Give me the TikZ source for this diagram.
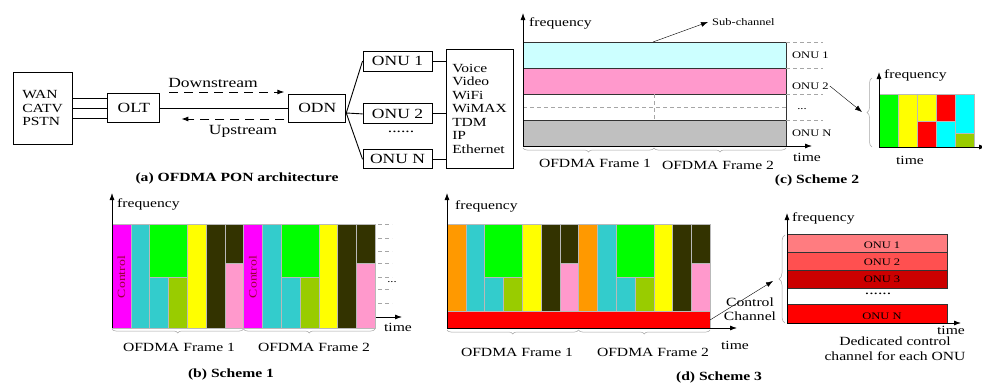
\documentclass[tikz,border=0pt]{standalone}
\usepackage{fontspec}
\setmainfont[FakeStretch=1.25]{Liberation Serif}
\usetikzlibrary{positioning}
\usetikzlibrary{graphs}
\usetikzlibrary{arrows.meta}
\usetikzlibrary{decorations.pathreplacing}
\definecolor{cmagenta}{HTML}{FF00FF}
\definecolor{cteal}{HTML}{33CCCC}
\definecolor{cgreen}{HTML}{00FF00}
\definecolor{colive}{HTML}{99CC00}
\definecolor{cyellow}{HTML}{FFFF00}
\definecolor{cdark}{HTML}{333300}
\definecolor{cpink}{HTML}{FF99CC}
\definecolor{corange}{HTML}{FF9900}
\definecolor{cred}{HTML}{FF0000}
\definecolor{ccyan}{HTML}{00FFFF}
\definecolor{clightcyan}{HTML}{CCFFFF}
\definecolor{cgray}{HTML}{C0C0C0}
\definecolor{cctrl}{HTML}{990033}
\definecolor{conua}{HTML}{FF7C80}
\definecolor{conub}{HTML}{FF5050}
\definecolor{conuc}{HTML}{CC0000}
\tikzset{axtip/.tip={Latex[length=7pt,width=5pt]}}
\newcommand{\ofdmaframe}[3]{% #1 left x, #2 bottom y, #3 first slot
  \filldraw[cell, fill=#3]      (#1,224)         rectangle ({#1+18.8},#2);
  \filldraw[cell, fill=cteal]   ({#1+18.8},224)  rectangle ({#1+37.6},#2);
  \filldraw[cell, fill=cgreen]  ({#1+37.6},224)  rectangle ({#1+75.2},277);
  \filldraw[cell, fill=cteal]   ({#1+37.6},277)  rectangle ({#1+56.4},#2);
  \filldraw[cell, fill=colive]  ({#1+56.4},277)  rectangle ({#1+75.2},#2);
  \filldraw[cell, fill=cyellow] ({#1+75.2},224)  rectangle ({#1+94},#2);
  \filldraw[cell, fill=cdark]   ({#1+94},224)    rectangle ({#1+112.8},#2);
  \filldraw[cell, fill=cdark]   ({#1+112.8},224) rectangle ({#1+131.5},263);
  \filldraw[cell, fill=cpink]   ({#1+112.8},263) rectangle ({#1+131.5},#2);
}

\begin{document}
\begin{tikzpicture}[x=1pt,y=-1pt,
    box/.style={draw, line width=0.9pt, inner sep=0pt, font=\fontsize{14}{16}\selectfont},
    list/.style={font=\fontsize{12.4}{13.5}\selectfont},
    big/.style={font=\fontsize{14}{16}\selectfont},
    lab/.style={font=\fontsize{12.5}{15}\selectfont, inner sep=1pt},
    smalltxt/.style={font=\fontsize{10}{12}\selectfont, inner sep=1pt},
    subcap/.style={font=\bfseries\fontsize{12.5}{14}\selectfont},
    wire/.style={line width=0.9pt},
    flow/.style={line width=0.9pt, dash pattern=on 9pt off 6pt, -axtip},
    faxis/.style={line width=0.8pt, -axtip},
    pointer/.style={line width=0.4pt, -axtip},
    cell/.style={draw=gray!55, line width=0.3pt},
    band/.style={draw=black!80, line width=0.8pt},
    guide/.style={draw=gray!70, line width=0.5pt, dash pattern=on 4pt off 3pt},
    fbrace/.style={decorate, decoration={brace, amplitude=4pt}, draw=gray!70, line width=0.5pt},
    ctrl/.style={rotate=90, text=cctrl, font=\fontsize{11}{12}\selectfont}]
    \path[use as bounding box, fill=white] (0,0) rectangle (982,388);

    % (a) architecture
    \node[box, list, minimum width=59pt, minimum height=72pt, align=left] (wan) at (42.5,108) {WAN\\CATV\\PSTN};
    \node[box, minimum width=52pt, minimum height=29pt] (olt) [right=35pt of wan] {OLT};
    \node[box, minimum width=57pt, minimum height=28pt] (odn) [right=128pt of olt] {ODN};
    \node[box, minimum width=69pt, minimum height=20pt] (onu1) at (397.5,61) {ONU 1};
    \node[box, minimum width=69pt, minimum height=20pt] (onu2) [below=32pt of onu1] {ONU 2};
    \node[big] (onudots) at (401,132) {......};
    \node[box, minimum width=69pt, minimum height=19pt] (onun) [below=25pt of onu2] {ONU N};
    \node[box, list, minimum width=67pt, minimum height=119pt, align=left] (svc) at (479.5,108.5)
        {Voice\\Video\\WiFi\\WiMAX\\TDM\\IP\\Ethernet};
    \node[big] (down) at (213,83) {Downstream};
    \node[big] (up) at (243,131) {Upstream};

    \draw[wire] ([yshift=10pt]wan.east) -- ([yshift=10pt]olt.west);
    \draw[wire] (wan.east) -- (olt.west);
    \draw[wire] ([yshift=-10pt]wan.east) -- ([yshift=-10pt]olt.west);
    \graph[edges={wire}]{ (olt) -- (odn); };
    \draw[flow] ([xshift=9pt,yshift=16pt]olt.east) -- ([xshift=-4pt,yshift=16pt]odn.west);
    \draw[flow] ([xshift=-4pt,yshift=-11pt]odn.west) -- ([xshift=21pt,yshift=-11pt]olt.east);
    \coordinate (split) at ([yshift=-5pt]odn.east);
    \draw[wire] (split) -- (onu1.west);
    \draw[wire] (split) -- (onu2.west);
    \draw[wire] (split) -- (onun.west);
    \draw[wire] (onu1.east) -- (onu1.east -| svc.west);
    \draw[wire] (onu2.east) -- (onu2.east -| svc.west);
    \draw[wire] (onun.east) -- (onun.east -| svc.west);
    \node[subcap] (capa) at (237,178) {(a) OFDMA PON architecture};

    % (c) scheme 2
    \filldraw[band, fill=clightcyan] (523,42) rectangle (786,68);
    \filldraw[band, fill=cpink] (523,68) rectangle (786,94);
    \filldraw[band, fill=white] (523,94) rectangle (786,120);
    \filldraw[band, fill=cgray] (523,120) rectangle (786,146);
    \draw[guide] (523,107) -- (786,107);
    \draw[guide] (654,94) -- (654,120);
    \foreach \y in {42,68,94,120}
        \draw[guide] (786,\y) -- (823,\y);
    \coordinate (oc) at (523,146);
    \draw[faxis] (oc) -- (523,13);
    \draw[faxis] (oc) -- (812,146);
    \node[lab, anchor=west] (freqc) at (528,23) {frequency};
    \node[lab] (timec) at (807,157) {time};
    \node[smalltxt, anchor=west] (subch) at (711,22) {Sub-channel};
    \coordinate (subtop) at (653,42);
    \draw[pointer] (subtop) -- ([xshift=-3pt]subch.west);
    \node[smalltxt, anchor=west] (labc1) at (791,55) {ONU 1};
    \node[smalltxt, anchor=west] (labc2) at (791,86) {ONU 2};
    \node[smalltxt] (labcd) at (802,109) {...};
    \node[smalltxt, anchor=west] (labcn) at (791,133) {ONU N};
    \draw[fbrace] (654,148) -- (523,148);
    \draw[fbrace] (786,148) -- (654,148);
    \node[lab] (framec1) at (595,163) {OFDMA Frame 1};
    \node[lab] (framec2) at (718,165) {OFDMA Frame 2};
    \node[subcap] (capc) at (817,180) {(c) Scheme 2};

    % (c) slot inset
    \filldraw[cell, fill=cgreen] (879,94) rectangle (898,147);
    \filldraw[cell, fill=cyellow] (898,94) rectangle (917,147);
    \filldraw[cell, fill=cyellow] (917,94) rectangle (936,121);
    \filldraw[cell, fill=cred] (917,121) rectangle (936,147);
    \filldraw[cell, fill=cred] (936,94) rectangle (955,121);
    \filldraw[cell, fill=ccyan] (936,121) rectangle (955,147);
    \filldraw[cell, fill=ccyan] (955,94) rectangle (974,133);
    \filldraw[cell, fill=colive] (955,133) rectangle (974,147);
    \coordinate (oi) at (879,147);
    \draw[faxis] (oi) -- (879,72);
    \draw[faxis] (oi) -- (986,147);
    \node[lab, anchor=west] (freqi) at (883,75) {frequency};
    \node[lab] (timei) at (910,160) {time};
    \draw[fbrace, decoration={amplitude=5pt}] (872,147) -- (872,78);
    \coordinate (tipc) at (862,112);
    \draw[pointer] (labc2.east) -- (tipc);

    % (b) scheme 1
    \ofdmaframe{112}{328}{cmagenta}
    \ofdmaframe{243.5}{328}{cmagenta}
    \node[ctrl] (ctl1) at (121.4,277) {Control};
    \node[ctrl] (ctl2) at (252.9,277) {Control};
    \coordinate (ob) at (112,328);
    \draw[faxis] (ob) -- (112,193);
    \draw[faxis] (376,317) -- (402,317);
    \foreach \y in {224,238,251,263,277,289,303}
        \draw[guide] (378,\y) -- (392,\y);
    \node[smalltxt] (dotsb) at (392,282) {...};
    \node[lab, anchor=west] (freqb) at (116,204) {frequency};
    \node[lab] (timeb) at (398,327) {time};
    \draw[fbrace] (243.5,329) -- (112,329);
    \draw[fbrace] (375,329) -- (243.5,329);
    \node[lab] (frameb1) at (179,347) {OFDMA Frame 1};
    \node[lab] (frameb2) at (314,347) {OFDMA Frame 2};
    \node[subcap] (capb) at (231,374) {(b) Scheme 1};

    % (d) scheme 3
    \ofdmaframe{447}{311}{corange}
    \ofdmaframe{578.5}{311}{corange}
    \filldraw[cell, fill=cred] (447,311) rectangle (710,328);
    \coordinate (od) at (447,328);
    \draw[faxis] (od) -- (447,193);
    \draw[faxis] (od) -- (737,328);
    \node[lab, anchor=west] (freqd) at (454,206) {frequency};
    \node[lab] (timed) at (735,345) {time};
    \draw[fbrace] (578.5,330) -- (447,330);
    \draw[fbrace] (710,330) -- (578.5,330);
    \node[lab] (framed1) at (517,352) {OFDMA Frame 1};
    \node[lab] (framed2) at (653,352) {OFDMA Frame 2};
    \node[subcap] (capd) at (719,377) {(d) Scheme 3};
    \node[lab, align=center, font=\fontsize{12.5}{13.5}\selectfont] (ctlch) at (750,309) {Control\\Channel};
    \coordinate (redend) at (710,320);
    \coordinate (tipd) at (773,281);
    \draw[pointer] (redend) -- (tipd);
    \draw[fbrace, decoration={amplitude=6pt}] (785,323) -- (785,235);

    % (d) control channel inset
    \filldraw[band, fill=conua] (787,234) rectangle (947,252);
    \filldraw[band, fill=conub] (787,252) rectangle (947,270);
    \filldraw[band, fill=conuc] (787,270) rectangle (947,288);
    \filldraw[band, fill=cred] (787,304) rectangle (947,323);
    \node[smalltxt] (labd1) at (882,245) {ONU 1};
    \node[smalltxt] (labd2) at (882,262) {ONU 2};
    \node[smalltxt] (labd3) at (882,279) {ONU 3};
    \node[big] (labdd) at (878,294) {......};
    \node[smalltxt] (labdn) at (882,316) {ONU N};
    \coordinate (oe) at (787,323);
    \draw[faxis] (oe) -- (787,213);
    \draw[faxis] (oe) -- (961,323);
    \node[lab, anchor=west] (freqe) at (791,218) {frequency};
    \node[lab] (timee) at (951,330) {time};
    \node[lab, align=center] (ded) at (895,349) {Dedicated control\\channel for each ONU};
\end{tikzpicture}
\end{document}
